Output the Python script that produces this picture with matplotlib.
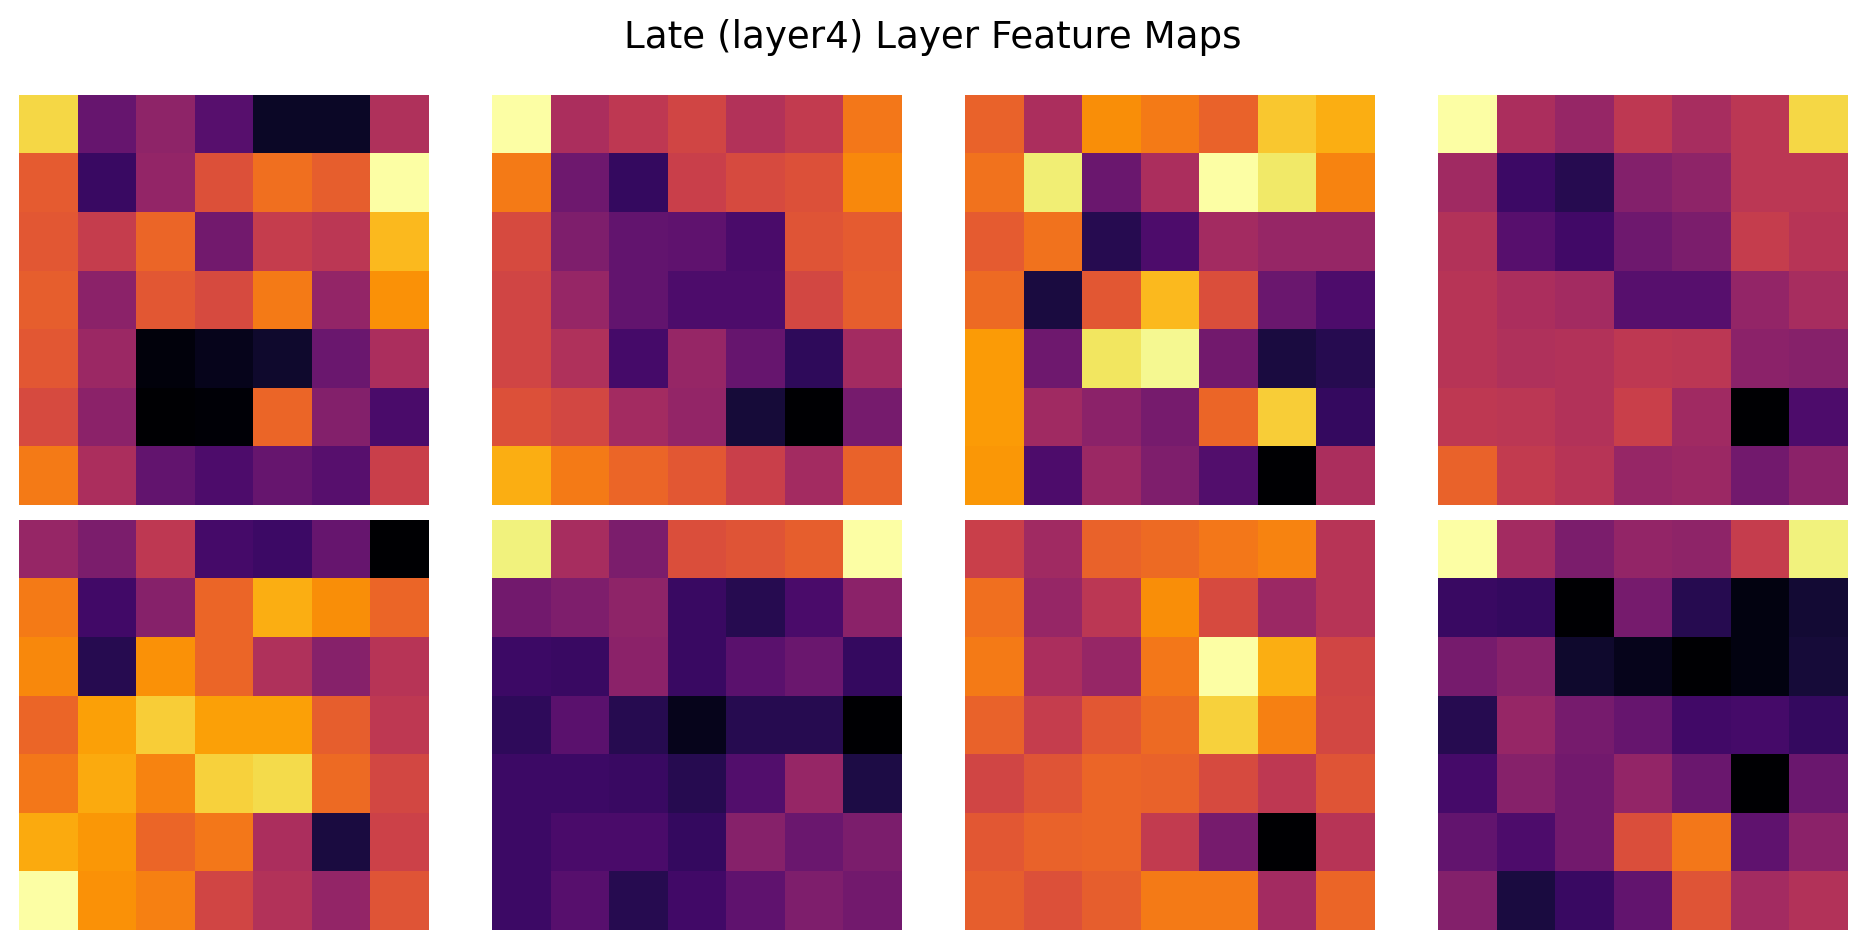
import matplotlib
matplotlib.use("Agg")
import matplotlib.pyplot as plt
import numpy as np

title = "Late (layer4) Layer Feature Maps"

map1 = [[.90,.29,.39,.25,.07,.07,.47],
        [.63,.18,.40,.60,.68,.64,1.0],
        [.62,.53,.66,.32,.53,.50,.84],
        [.64,.38,.62,.58,.71,.40,.76],
        [.62,.42,.02,.05,.08,.30,.46],
        [.58,.38,.00,.01,.66,.36,.22],
        [.71,.46,.28,.23,.29,.25,.54]]
map2 = [[1.0,.46,.51,.56,.48,.52,.70],
        [.71,.31,.17,.54,.58,.60,.74],
        [.58,.35,.28,.27,.22,.61,.63],
        [.56,.41,.28,.23,.23,.57,.64],
        [.56,.47,.21,.41,.29,.16,.44],
        [.60,.57,.44,.40,.10,.00,.33],
        [.82,.71,.66,.62,.54,.44,.65]]
map3 = [[.65,.46,.75,.71,.65,.87,.82],
        [.69,.95,.30,.46,1.0,.94,.73],
        [.63,.69,.14,.23,.44,.41,.41],
        [.67,.11,.62,.84,.59,.30,.23],
        [.78,.31,.93,.98,.32,.11,.14],
        [.78,.43,.38,.33,.66,.88,.17],
        [.77,.23,.42,.35,.24,.00,.46]]
map4 = [[1.0,.46,.41,.51,.45,.50,.90],
        [.43,.19,.14,.36,.39,.50,.50],
        [.48,.25,.20,.31,.34,.53,.49],
        [.49,.46,.44,.25,.25,.40,.45],
        [.49,.47,.48,.51,.50,.38,.37],
        [.51,.50,.48,.54,.43,.00,.23],
        [.65,.52,.49,.41,.42,.32,.38]]
map5 = [[.41,.34,.51,.21,.19,.29,.00],
        [.71,.20,.37,.66,.82,.75,.66],
        [.74,.14,.76,.66,.47,.37,.49],
        [.66,.79,.88,.79,.79,.64,.51],
        [.70,.81,.73,.89,.91,.67,.57],
        [.81,.77,.66,.70,.46,.11,.55],
        [1.0,.76,.72,.56,.48,.40,.61]]
map6 = [[.96,.45,.34,.59,.61,.64,1.0],
        [.32,.35,.39,.18,.14,.22,.38],
        [.19,.18,.38,.18,.26,.30,.17],
        [.16,.26,.14,.05,.14,.14,.00],
        [.19,.19,.18,.14,.24,.41,.12],
        [.19,.22,.22,.17,.37,.30,.34],
        [.19,.25,.14,.20,.27,.35,.32]]
map7 = [[.54,.43,.65,.67,.70,.73,.49],
        [.68,.41,.50,.75,.58,.42,.49],
        [.71,.46,.41,.70,1.0,.82,.56],
        [.65,.53,.62,.67,.89,.72,.57],
        [.56,.61,.66,.65,.58,.51,.61],
        [.62,.65,.66,.52,.33,.00,.49],
        [.64,.60,.64,.71,.71,.44,.66]]
map8 = [[1.0,.44,.34,.40,.39,.53,.96],
        [.18,.17,.00,.33,.14,.03,.09],
        [.33,.37,.08,.05,.00,.03,.10],
        [.14,.41,.33,.29,.20,.21,.17],
        [.21,.37,.32,.40,.30,.00,.30],
        [.28,.23,.32,.59,.70,.27,.38],
        [.36,.11,.18,.28,.61,.44,.48]]
maps = [map1, map2, map3, map4, map5, map6, map7, map8]

W, H = 1866, 950
fig = plt.figure(figsize=(W/200, H/200), dpi=200)

# pixel edges of the panels in the full-size picture
lefts = [19, 492, 965, 1438]
tops = [95, 520]
size = 410

for i, m in enumerate(maps):
    x0 = lefts[i % 4]
    y0 = tops[i // 4]
    ax = fig.add_axes([x0/W, 1-(y0+size)/H, size/W, size/H])
    ax.imshow(np.array(m), cmap="inferno", vmin=0, vmax=1, aspect="auto", interpolation="nearest")
    ax.axis("off")

fig.text(0.5, 1-37/H, title, ha="center", va="center", fontsize=13.4)

plt.savefig("out.png", dpi=200)
